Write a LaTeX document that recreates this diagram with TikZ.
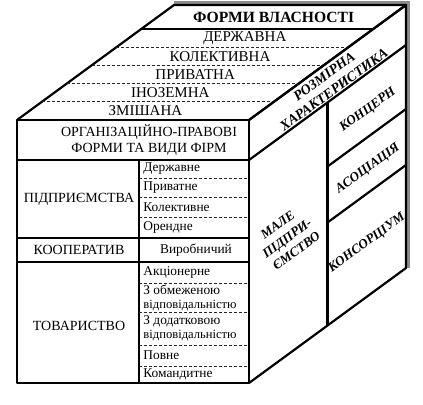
\documentclass[tikz,border=0pt]{standalone}
\usepackage{fontspec}
\setmainfont{Liberation Serif}
\usepackage{tikz}
\usetikzlibrary{calc}
\tikzset{
  kedge/.style={black, line width=1.1pt, line join=round},
  kdash/.style={black!85, dash pattern=on 1.5pt off 1pt, line width=0.45pt},
  kshade/.style={black!45, line width=2pt},
  ktop/.style={font=\fontsize{7.5}{8}\selectfont, inner sep=0pt},
  kcap/.style={font=\fontsize{7}{8}\selectfont, inner sep=0pt, align=center},
  ksub/.style={font=\fontsize{6.7}{7}\selectfont, inner sep=0pt, anchor=west, align=left},
  kside/.style={font=\fontsize{6.6}{8}\selectfont\bfseries\itshape, inner sep=0pt,
                align=center, rotate=36},
}

\begin{document}
\begin{tikzpicture}[x=0.5pt,y=-0.5pt]
  \useasboundingbox (0,0) rectangle (423,404);

  % ---- вершини ----
  \coordinate (fa) at (17,120);
  \coordinate (fb) at (249,120);
  \coordinate (fc) at (249,383);
  \coordinate (fd) at (17,383);
  \coordinate (ba) at (174,5);
  \coordinate (bb) at (406,5);
  \coordinate (bc) at (406,268);
  \coordinate (ftm) at (133,120);
  \coordinate (btm) at (290,5);

  % ---- тінь ----
  \draw[kshade] (174,3) -- (408,3) -- (408,268);

  % ---- верхня грань: форми власності ----
  \draw[kedge] (fa) -- (ba) -- (bb) -- (fb);
  \foreach \k in {1,...,4}
    \draw[kdash] ($(fa)!{\k*0.1583}!(ba)$) -- ($(fb)!{\k*0.1583}!(bb)$);
  \draw[kedge] ($(fa)!0.7915!(ba)$) -- ($(fb)!0.7915!(bb)$);
  \foreach \k/\txt in {0/ЗМІШАНА,1/ІНОЗЕМНА,2/ПРИВАТНА,3/КОЛЕКТИВНА,4/ДЕРЖАВНА}
    \node[ktop] (own\k) at ($(ftm)!{(\k+0.5)*0.1583}!(btm)$) {\txt};
  \node[ktop, font=\fontsize{7.8}{8}\selectfont\bfseries] (forms)
    at ($(ftm)!0.8957!(btm)$) {ФОРМИ ВЛАСНОСТІ};

  % ---- передня грань: види фірм ----
  \draw[kedge] (fa) rectangle (fc);
  \draw[kedge] (17,160) -- (249,160);
  \draw[kedge] (139,160) -- (139,383);
  \draw[kedge] (17,238) -- (249,238);
  \draw[kedge] (17,262) -- (249,262);
  \foreach \y in {178,197,217,283,312,345,366}
    \draw[kdash] (139,\y) -- (249,\y);

  \node[kcap] (orgforms) at (149,140) {ОРГАНІЗАЦІЙНО-ПРАВОВІ\\ФОРМИ ТА ВИДИ ФІРМ};
  \node[kcap] (pidpr) at (79,199) {ПІДПРИЄМСТВА};
  \node[kcap] (coop) at (79,250) {КООПЕРАТИВ};
  \node[kcap] (tovar) at (79,326) {ТОВАРИСТВО};

  \node[ksub] (derzh) at (143,169) {Державне};
  \node[ksub] (pryv) at (143,187.5) {Приватне};
  \node[ksub] (kolekt) at (143,207) {Колективне};
  \node[ksub] (orend) at (143,227.5) {Орендне};
  \node[ksub, anchor=center] (vyrob) at (196,250) {Виробничий};
  \node[ksub] (akc) at (143,272.5) {Акціонерне};
  \node[ksub] (obmezh) at (143,297.5)
    {З обмеженою\\{\fontsize{6.3}{7}\selectfont відповідальністю}};
  \node[ksub] (dodatk) at (143,328.5)
    {З додатковою\\{\fontsize{6.3}{7}\selectfont відповідальністю}};
  \node[ksub] (povne) at (143,355.5) {Повне};
  \node[ksub] (komand) at (143,374.5) {Командитне};

  % ---- бічна грань: розмірна характеристика ----
  \draw[kedge] (fb) -- (bb) -- (bc) -- (fc);
  \draw[kedge] (249,160) -- (406,45);
  \draw[kedge] (327.5,102.5) -- (327.5,325.5);
  \draw[kedge] (327.5,166.5) -- (406,109);
  \draw[kedge] (327.5,222.5) -- (406,165);

  \node[kside, font=\fontsize{7}{8.2}\selectfont\bfseries\itshape] (rozmir)
    at (329,83) {РОЗМІРНА\\ХАРАКТЕРИСТИКА};
  \node[kside] (male) at (287,238) {МАЛЕ\\ПІДПРИ-\\ЄМСТВО};
  \node[kside] (koncern) at (368,110) {КОНЦЕРН};
  \node[kside] (asoc) at (368,169) {АСОЦІАЦІЯ};
  \node[kside] (konsorc) at (367,243) {КОНСОРЦІУМ};

\end{tikzpicture}
\end{document}
